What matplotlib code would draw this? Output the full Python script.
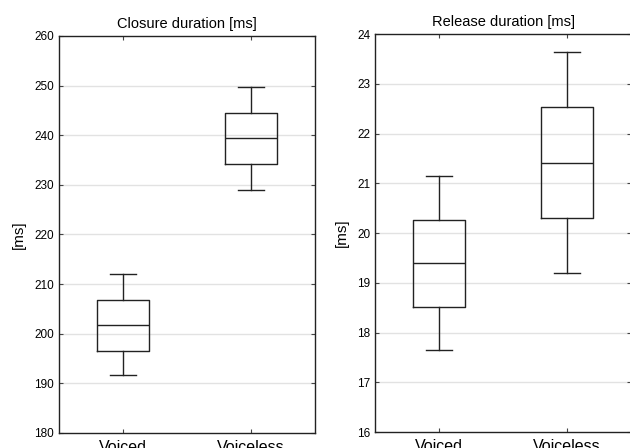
import matplotlib
matplotlib.use("Agg")
import matplotlib.pyplot as plt

plt.rcParams['font.family'] = ['Liberation Sans', 'DejaVu Sans']

groups = ["Voiced", "Voiceless"]

# closure duration [ms]: whisker low, q1, median, q3, whisker high
closure_low = [191.6, 228.9]
closure_q1 = [196.6, 234.2]
closure_med = [201.7, 239.4]
closure_q3 = [206.8, 244.5]
closure_high = [212.0, 249.7]

# release duration [ms]
release_low = [17.65, 19.19]
release_q1 = [18.52, 20.30]
release_med = [19.40, 21.41]
release_q3 = [20.27, 22.53]
release_high = [21.14, 23.64]


def make_stats(low, q1, med, q3, high):
    stats = []
    for i in range(len(groups)):
        stats.append({"whislo": low[i], "q1": q1[i], "med": med[i],
                      "q3": q3[i], "whishi": high[i], "fliers": []})
    return stats


def draw(ax, stats, title, ylim, yticks):
    line = dict(color="#222222", linewidth=1.0)
    ax.bxp(stats, positions=range(len(groups)), widths=0.4,
           showfliers=False, boxprops=line, medianprops=line,
           whiskerprops=line, capprops=line, capwidths=0.2)
    ax.set_xlim(-0.5, len(groups) - 0.5)
    ax.set_ylim(*ylim)
    ax.set_yticks(yticks)
    ax.set_xticks(range(len(groups)))
    ax.set_xticklabels(groups, fontsize=11.5)
    ax.tick_params(axis="x", direction="in", length=3, pad=5,
                   top=True, color="#444444")
    ax.tick_params(axis="y", direction="in", length=3, labelsize=8.5,
                   right=True, color="#444444")
    for y in yticks[1:-1]:
        ax.axhline(y, color="#e2e2e2", linewidth=1.0, zorder=0)
    for s in ax.spines.values():
        s.set_linewidth(1.0)
        s.set_color("#222222")
    ax.set_title(title, fontsize=10.5, pad=6)
    ax.set_ylabel("[ms]", fontsize=11, labelpad=6)


fig = plt.figure(figsize=(6.3, 4.48), dpi=100)
ax1 = fig.add_axes([59 / 630, 15 / 448, 256 / 630, 397 / 448])
ax2 = fig.add_axes([375 / 630, 16 / 448, 256 / 630, 398 / 448])

draw(ax1, make_stats(closure_low, closure_q1, closure_med, closure_q3, closure_high),
     "Closure duration [ms]", (180, 260), list(range(180, 261, 10)))
draw(ax2, make_stats(release_low, release_q1, release_med, release_q3, release_high),
     "Release duration [ms]", (16, 24), list(range(16, 25)))

fig.savefig("out.png", dpi=100)
